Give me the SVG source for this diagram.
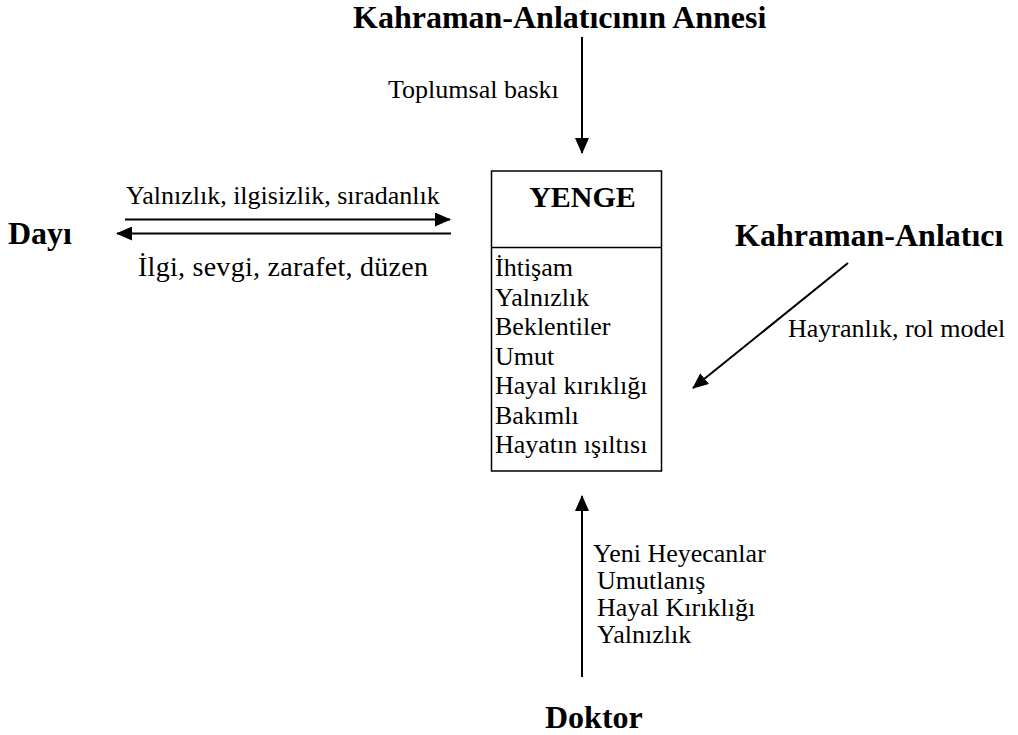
<svg xmlns="http://www.w3.org/2000/svg" width="1018" height="735" viewBox="0 0 1018 735">
  <defs>
    <marker id="head" viewBox="0 0 16 14" refX="15" refY="7" markerWidth="16" markerHeight="14" markerUnits="userSpaceOnUse" orient="auto">
      <path d="M0,0 L16,7 L0,14 Z" fill="#000"/>
    </marker>
    <style>
      .t { font-family: "Liberation Serif", "Times New Roman", serif; font-size: 26px; fill: #000; }
      .b { font-family: "Liberation Serif", "Times New Roman", serif; font-size: 32px; font-weight: bold; fill: #000; }
      .ln { stroke: #000; stroke-width: 2; fill: none; marker-end: url(#head); }
      .box { stroke: #000; stroke-width: 1.5; fill: #fff; }
    </style>
  </defs>
  <rect width="1018" height="735" fill="#fff"/>

  <g id="connectors">
    <line class="ln" x1="582" y1="37" x2="582" y2="153"/>
    <line class="ln" x1="125" y1="219.5" x2="450" y2="219.5"/>
    <line class="ln" x1="451" y1="233.5" x2="117" y2="233.5"/>
    <line class="ln" x1="848" y1="263" x2="693" y2="388"/>
    <line class="ln" x1="582" y1="677" x2="582" y2="496"/>
    <text class="t" x="388" y="98">Toplumsal baskı</text>
    <text class="t" x="126" y="204">Yalnızlık, ilgisizlik, sıradanlık</text>
    <text class="t" x="138" y="276" style="font-size:28px" textLength="290" lengthAdjust="spacing">İlgi, sevgi, zarafet, düzen</text>
    <text class="t" x="788" y="337">Hayranlık, rol model</text>
    <text class="t" x="593" y="562">Yeni Heyecanlar</text>
    <text class="t" x="597" y="589">Umutlanış</text>
    <text class="t" x="597" y="616">Hayal Kırıklığı</text>
    <text class="t" x="597" y="643">Yalnızlık</text>
  </g>

  <g id="annesi">
    <text class="b" x="353" y="28">Kahraman-Anlatıcının Annesi</text>
  </g>

  <g id="dayi">
    <text class="b" x="8" y="244">Dayı</text>
  </g>

  <g id="anlatici">
    <text class="b" x="735" y="246">Kahraman-Anlatıcı</text>
  </g>

  <g id="doktor">
    <text class="b" x="545" y="728">Doktor</text>
  </g>

  <g id="yenge">
    <rect class="box" x="491.5" y="171" width="170" height="300"/>
    <line stroke="#000" stroke-width="1.5" x1="491.5" y1="247.5" x2="661.5" y2="247.5"/>
    <text class="b" x="582.5" y="207" text-anchor="middle" style="font-size:30px">YENGE</text>
    <text class="t" x="495" y="276">İhtişam</text>
    <text class="t" x="495" y="305.5">Yalnızlık</text>
    <text class="t" x="495" y="335">Beklentiler</text>
    <text class="t" x="495" y="364.5">Umut</text>
    <text class="t" x="495" y="394">Hayal kırıklığı</text>
    <text class="t" x="495" y="423.5">Bakımlı</text>
    <text class="t" x="495" y="453">Hayatın ışıltısı</text>
  </g>
</svg>
